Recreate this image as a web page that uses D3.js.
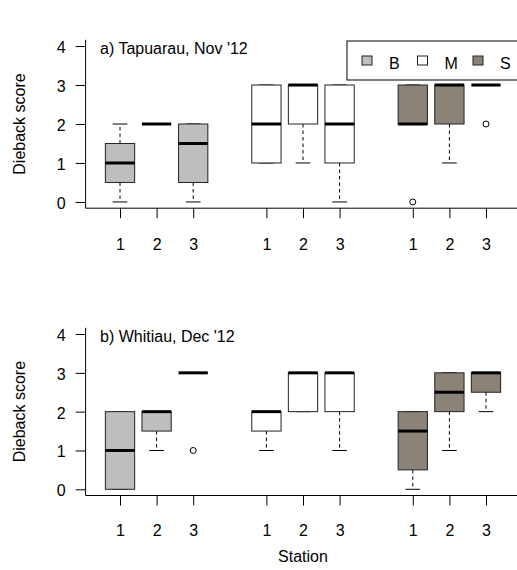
<!DOCTYPE html>
<html>
<head>
<meta charset="utf-8">
<script src="https://cdn.jsdelivr.net/npm/d3@7"></script>
<style>
  html, body { margin: 0; padding: 0; background: #fff; }
  svg { display: block; font-family: "Liberation Sans", Arial, sans-serif; }
</style>
</head>
<body>
<svg id="chart" width="517" height="570"></svg>
<script>
// Site types and stations along the transect
const siteTypes = ["B", "M", "S"];
const stations = ["1", "2", "3"];
const siteFills = ["#bebebe", "#ffffff", "#8b8378"];
const yTicks = [0, 1, 2, 3, 4];

// Box statistics per box: [lower whisker, Q1, median, Q3, upper whisker]
// Order: B1, B2, B3, M1, M2, M3, S1, S2, S3
const tapuarauStats = [
  [0, 0.5, 1, 1.5, 2],
  [2, 2, 2, 2, 2],
  [0, 0.5, 1.5, 2, 2],
  [1, 1, 2, 3, 3],
  [1, 2, 3, 3, 3],
  [0, 1, 2, 3, 3],
  [2, 2, 2, 3, 3],
  [1, 2, 3, 3, 3],
  [3, 3, 3, 3, 3]
];
const tapuarauOutliers = [[], [], [], [], [], [], [0], [], [2]];

const whitiauStats = [
  [0, 0, 1, 2, 2],
  [1, 1.5, 2, 2, 2],
  [3, 3, 3, 3, 3],
  [1, 1.5, 2, 2, 2],
  [2, 2, 3, 3, 3],
  [1, 2, 3, 3, 3],
  [0, 0.5, 1.5, 2, 2],
  [1, 2, 2.5, 3, 3],
  [2, 2.5, 3, 3, 3]
];
const whitiauOutliers = [[], [], [1], [], [], [], [], [], []];

const panelTitles = ["a) Tapuarau, Nov '12", "b) Whitiau, Dec '12"];

const svg = d3.select("#chart");
const fontSize = 16;

// Box positions: stations 1-3 within each site group, a gap between groups
const boxPos = [];
siteTypes.forEach((s, g) => stations.forEach((st, i) => boxPos.push(g * 4 + i + 1)));

const x = d3.scaleLinear().domain([0.06, 11.94]).range([85.6, 520.4]);
const boxW = x(0.8) - x(0);

function drawPanel(top, bottom, stats, outliers, title, labelPad, showLegend) {
  const y = d3.scaleLinear().domain([-0.16, 4.16]).range([bottom, top]);
  const g = svg.append("g");

  // y axis
  const yAxis = d3.axisLeft(y).tickValues(yTicks).tickSize(10).tickPadding(10)
    .tickFormat(d3.format("d"));
  const ya = g.append("g").attr("transform", `translate(${x.range()[0]},0)`).call(yAxis);
  ya.select(".domain").remove();
  ya.selectAll("text").attr("font-size", fontSize).attr("font-family", null)
    .attr("dy", "0.4em").attr("fill", "#000");
  ya.selectAll("line").attr("stroke", "#000");

  // x axis (station numbers)
  const xAxis = d3.axisBottom(x).tickValues(boxPos).tickSize(10).tickPadding(labelPad)
    .tickFormat((d, i) => stations[i % 3]);
  const xa = g.append("g").attr("transform", `translate(0,${bottom})`).call(xAxis);
  xa.select(".domain").remove();
  xa.selectAll("text").attr("font-size", fontSize).attr("font-family", null).attr("fill", "#000");
  xa.selectAll("line").attr("stroke", "#000");

  // L-shaped frame
  g.append("path")
    .attr("d", `M${x.range()[0]},${top}V${bottom}H${x.range()[1]}`)
    .attr("fill", "none").attr("stroke", "#000").attr("stroke-width", 1);

  // boxes
  const boxes = g.selectAll("g.box").data(stats).join("g").attr("class", "box");
  boxes.each(function (d, i) {
    const b = d3.select(this);
    const cx = x(boxPos[i]);
    const fill = siteFills[Math.floor(i / 3)];
    const [lo, q1, med, q3, hi] = d;
    // whiskers
    b.append("line").attr("x1", cx).attr("x2", cx).attr("y1", y(q1)).attr("y2", y(lo))
      .attr("stroke", "#000").attr("stroke-dasharray", "3.5,3");
    b.append("line").attr("x1", cx).attr("x2", cx).attr("y1", y(q3)).attr("y2", y(hi))
      .attr("stroke", "#000").attr("stroke-dasharray", "3.5,3");
    // staples
    [lo, hi].forEach(v => b.append("line")
      .attr("x1", cx - boxW / 4).attr("x2", cx + boxW / 4)
      .attr("y1", y(v)).attr("y2", y(v)).attr("stroke", "#000"));
    // box
    b.append("rect").attr("x", cx - boxW / 2).attr("width", boxW)
      .attr("y", y(q3)).attr("height", y(q1) - y(q3))
      .attr("fill", fill).attr("stroke", "#222").attr("stroke-width", 1);
    // median
    b.append("line").attr("x1", cx - boxW / 2).attr("x2", cx + boxW / 2)
      .attr("y1", y(med)).attr("y2", y(med)).attr("stroke", "#000").attr("stroke-width", 3);
    // outliers
    outliers[i].forEach(v => b.append("circle").attr("cx", cx).attr("cy", y(v)).attr("r", 3)
      .attr("fill", "none").attr("stroke", "#000").attr("stroke-width", 1));
  });

  // panel title
  g.append("text").attr("x", 100).attr("y", top + 14).attr("font-size", fontSize)
    .text(title);

  // y axis label
  g.append("text")
    .attr("transform", `translate(25,${(top + bottom) / 2}) rotate(-90)`)
    .attr("text-anchor", "middle").attr("font-size", fontSize)
    .text("Dieback score");

  if (showLegend) {
    const lg = g.append("g");
    lg.append("rect").attr("x", 347).attr("y", 41).attr("width", 200).attr("height", 39)
      .attr("fill", "#fff").attr("stroke", "#000").attr("stroke-width", 1);
    siteTypes.forEach((s, i) => {
      const sx = 362 + 55.5 * i;
      lg.append("rect").attr("x", sx).attr("y", 56).attr("width", 10).attr("height", 9)
        .attr("fill", siteFills[i]).attr("stroke", "#222");
      lg.append("text").attr("x", sx + 27).attr("y", 68.5).attr("font-size", fontSize).text(s);
    });
  }
}

drawPanel(39.8, 208.2, tapuarauStats, tapuarauOutliers, panelTitles[0], 20, true);
drawPanel(327.8, 495.5, whitiauStats, whitiauOutliers, panelTitles[1], 19, false);

// shared x axis title
svg.append("text").attr("x", 303).attr("y", 562).attr("text-anchor", "middle")
  .attr("font-size", fontSize).text("Station");
</script>
</body>
</html>
